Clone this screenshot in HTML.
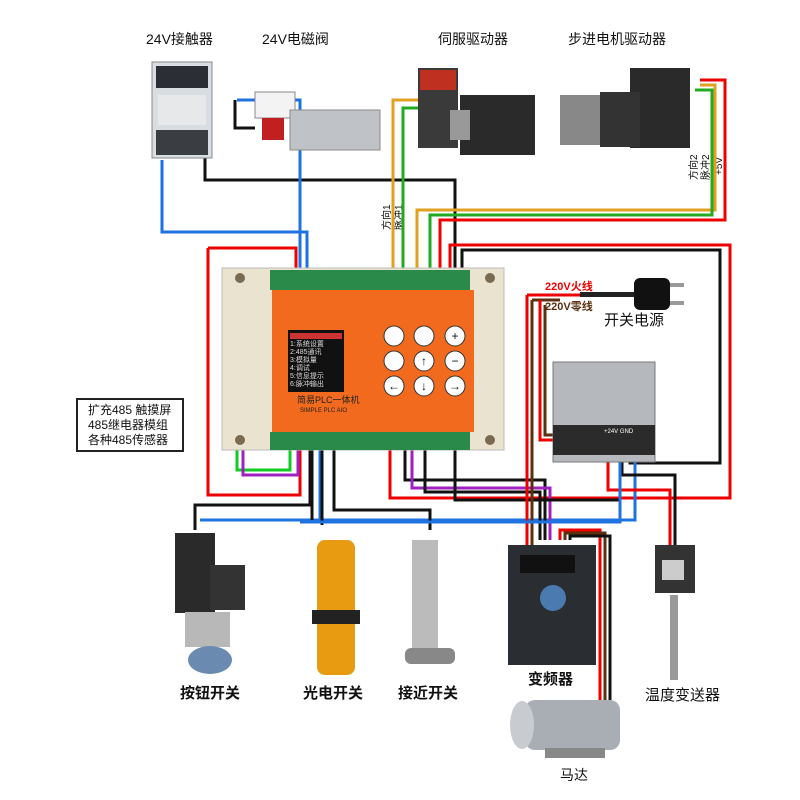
<!DOCTYPE html>
<html><head><meta charset="utf-8"><style>
html,body{margin:0;padding:0;background:#fff}
svg{display:block}
text{font-family:"Liberation Sans","Noto Sans CJK SC",sans-serif}
</style></head><body>
<svg width="800" height="800" viewBox="0 0 800 800" xmlns="http://www.w3.org/2000/svg">
<rect width="800" height="800" fill="#fff"/>
<g font-size="14" fill="#111">
<text x="146" y="44">24V接触器</text>
<text x="262" y="44">24V电磁阀</text>
<text x="438" y="44">伺服驱动器</text>
<text x="568" y="44">步进电机驱动器</text>
<text x="604" y="325" font-size="15">开关电源</text>
<text x="180" y="698" font-size="15" font-weight="bold">按钮开关</text>
<text x="303" y="698" font-size="15" font-weight="bold">光电开关</text>
<text x="398" y="698" font-size="15" font-weight="bold">接近开关</text>
<text x="528" y="684" font-size="15" font-weight="bold">变频器</text>
<text x="645" y="700" font-size="15">温度变送器</text>
<text x="560" y="780" font-size="14">马达</text>
</g>
<text x="545" y="290" font-size="11" fill="#e00" font-weight="bold">220V火线</text>
<text x="545" y="310" font-size="11" fill="#5a3010" font-weight="bold">220V零线</text>
<g font-size="10" fill="#111">
<text transform="translate(390,230) rotate(-90)">方向1</text>
<text transform="translate(402,230) rotate(-90)">脉冲1</text>
<text transform="translate(697,180) rotate(-90)">方向2</text>
<text transform="translate(709,180) rotate(-90)">脉冲2</text>
<text transform="translate(722,175) rotate(-90)">+5V</text>
</g>
<rect x="77" y="399" width="106" height="52" fill="#fff" stroke="#222" stroke-width="2"/>
<g font-size="12" fill="#111"><text x="88" y="414">扩充485 触摸屏</text><text x="88" y="429">485继电器模组</text><text x="88" y="444">各种485传感器</text></g>

<g fill="none" stroke-width="3">
<path d="M162 160V232H307V275" stroke="#1e73e0"/>
<path d="M205 150V180H455V275" stroke="#111"/>
<path d="M235 100V128H255" stroke="#111"/>
<path d="M237 100H300V275" stroke="#1e73e0"/>
<path d="M208 248V495H300V440" stroke="#e00"/>
<path d="M208 248H296V275" stroke="#e00"/>
<path d="M393 275V100H430" stroke="#e0a020"/>
<path d="M403 275V108H432" stroke="#2a2"/>
<path d="M417 275V210H715V85H700" stroke="#e0a020"/>
<path d="M430 275V215H712V90H695" stroke="#2a2"/>
<path d="M440 275V220H725V80H700" stroke="#e00"/>
<path d="M450 275V245H730V498H390V440" stroke="#e00"/>
<path d="M462 275V250H720V463H630V440" stroke="#111"/>
<path d="M237 450V470H290V440" stroke="#1c2"/>
<path d="M243 450V475H298V440" stroke="#a020c0"/>
<path d="M310 440V505H195V530" stroke="#111"/>
<path d="M320 440V520H635V440" stroke="#1e73e0"/>
<path d="M200 520H330" stroke="#1e73e0"/>
<path d="M312 440V520" stroke="#111"/>
<path d="M322 440V525" stroke="#111"/>
<path d="M334 440V510H430V530" stroke="#111"/>
<path d="M405 440V480H545V540" stroke="#111"/>
<path d="M412 440V488H550V540" stroke="#a020c0"/>
<path d="M425 440V492H540V540" stroke="#111"/>
<path d="M455 440V500H620V520" stroke="#111"/>
<path d="M527 295V545" stroke="#e00"/>
<path d="M532 300V545" stroke="#5a3010"/>
<path d="M527 295H620" stroke="#e00"/>
<path d="M532 300H560" stroke="#5a3010"/>
<path d="M540 300V440H570" stroke="#e00"/>
<path d="M545 305V435H580" stroke="#5a3010"/>
<path d="M608 440V490H670V545" stroke="#e00"/>
<path d="M622 440V475H675V545" stroke="#111"/>
<path d="M620 440V522H300" stroke="#1e73e0"/>
<path d="M560 540V530H600V700" stroke="#e00"/>
<path d="M565 540V533H605V700" stroke="#5a3010"/>
<path d="M570 540V536H610V700" stroke="#111"/>
</g>

<rect x="152" y="62" width="60" height="96" fill="#d8dde2" stroke="#888"/>
<rect x="156" y="66" width="52" height="22" fill="#2b2f35"/>
<rect x="158" y="95" width="48" height="30" fill="#e6e8ea"/>
<rect x="156" y="130" width="52" height="25" fill="#3a3d42"/>
<rect x="255" y="92" width="40" height="26" fill="#f3f3f3" stroke="#888"/>
<rect x="262" y="118" width="22" height="22" fill="#c02020"/>
<rect x="290" y="110" width="90" height="40" fill="#bfc3c8" stroke="#888"/>
<rect x="418" y="68" width="40" height="80" fill="#3a3a3a"/>
<rect x="420" y="70" width="36" height="20" fill="#c03020"/>
<rect x="460" y="95" width="75" height="60" fill="#2a2a2a"/>
<rect x="450" y="110" width="20" height="30" fill="#999"/>
<rect x="630" y="68" width="60" height="80" fill="#2a2a2a"/>
<rect x="560" y="95" width="50" height="50" fill="#888"/>
<rect x="600" y="92" width="40" height="55" fill="#333"/>
<rect x="580" y="292" width="60" height="5" fill="#222"/>
<rect x="634" y="278" width="36" height="32" rx="6" fill="#111"/>
<rect x="670" y="283" width="14" height="4" fill="#999"/>
<rect x="670" y="301" width="14" height="4" fill="#999"/>
<rect x="553" y="362" width="102" height="100" fill="#b5b8bc" stroke="#777"/>
<rect x="553" y="425" width="102" height="30" fill="#2b2b2b"/>
<text x="604" y="433" font-size="6" fill="#fff">+24V GND</text>

<rect x="222" y="268" width="282" height="182" fill="#e9e3cf" stroke="#bbb"/>
<rect x="270" y="270" width="200" height="20" fill="#2a8a4a"/>
<rect x="270" y="432" width="200" height="18" fill="#2a8a4a"/>
<rect x="272" y="290" width="202" height="142" fill="#f26a1e"/>
<circle cx="240" cy="278" r="5" fill="#7a6a50"/><circle cx="490" cy="278" r="5" fill="#7a6a50"/>
<circle cx="240" cy="440" r="5" fill="#7a6a50"/><circle cx="490" cy="440" r="5" fill="#7a6a50"/>
<rect x="288" y="330" width="56" height="62" fill="#111"/>
<rect x="290" y="333" width="52" height="6" fill="#c33"/>
<g font-size="7" fill="#ddd"><text x="290" y="346">1:系统设置</text><text x="290" y="354">2:485通讯</text><text x="290" y="362">3:模拟量</text><text x="290" y="370">4:调试</text><text x="290" y="378">5:信息提示</text><text x="290" y="386">6:脉冲输出</text></g>
<text x="297" y="403" font-size="9" fill="#222">简易PLC一体机</text>
<text x="300" y="412" font-size="6" fill="#222">SIMPLE PLC AIO</text>
<g fill="#fff" stroke="#333">
<circle cx="394" cy="336" r="10"/><circle cx="424" cy="336" r="10"/><circle cx="455" cy="336" r="10"/>
<circle cx="394" cy="361" r="10"/><circle cx="424" cy="361" r="10"/><circle cx="455" cy="361" r="10"/>
<circle cx="394" cy="386" r="10"/><circle cx="424" cy="386" r="10"/><circle cx="455" cy="386" r="10"/>
</g>
<g font-size="12" fill="#111" text-anchor="middle"><text x="455" y="340">+</text><text x="455" y="365">−</text><text x="424" y="365">↑</text><text x="394" y="390">←</text><text x="424" y="390">↓</text><text x="455" y="390">→</text></g>

<rect x="175" y="533" width="40" height="80" fill="#2a2a2a"/>
<rect x="210" y="565" width="35" height="45" fill="#333"/>
<rect x="185" y="612" width="45" height="35" fill="#b8b8b8"/>
<ellipse cx="210" cy="660" rx="22" ry="14" fill="#6a8ab0"/>
<rect x="317" y="540" width="38" height="135" rx="8" fill="#e89a10"/>
<rect x="312" y="610" width="48" height="14" fill="#222"/>
<rect x="412" y="540" width="26" height="110" fill="#bbb"/>
<rect x="405" y="648" width="50" height="16" rx="6" fill="#888"/>
<rect x="508" y="545" width="88" height="120" fill="#2a2e33"/>
<rect x="520" y="555" width="55" height="18" fill="#111"/>
<circle cx="553" cy="598" r="13" fill="#4a7ab0"/>
<rect x="655" y="545" width="40" height="48" fill="#333"/>
<rect x="662" y="560" width="22" height="20" fill="#ccc"/>
<rect x="670" y="595" width="8" height="85" fill="#999"/>
<rect x="525" y="700" width="95" height="50" rx="10" fill="#a8aeb4"/>
<ellipse cx="522" cy="725" rx="12" ry="24" fill="#c8ccd0"/>
<rect x="545" y="748" width="60" height="10" fill="#888"/>
</svg>
</body></html>
